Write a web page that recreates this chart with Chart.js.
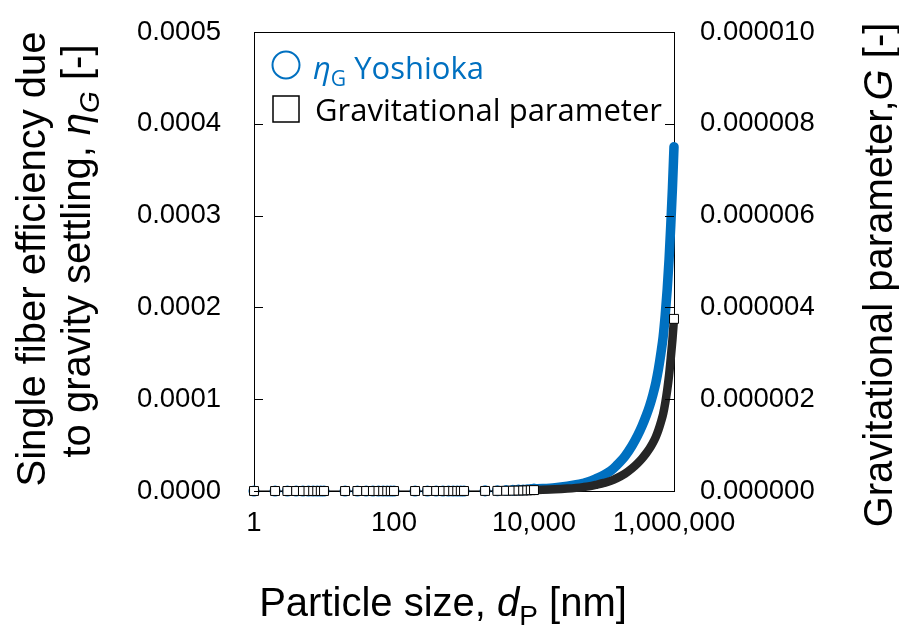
<!DOCTYPE html>
<html>
<head>
<meta charset="utf-8">
<script src="https://cdn.jsdelivr.net/npm/chart.js@4.4.1/dist/chart.umd.min.js"></script>
<style>
  html, body { margin: 0; padding: 0; background: #fff; }
  #chart { display: block; }
</style>
</head>
<body>
<canvas id="chart" width="899" height="625"></canvas>
<script>
// Particle diameters [nm]
const sizeNm = [
    1, 2, 3, 4, 5, 6, 7, 8, 9,
    10, 20, 30, 40, 50, 60, 70, 80, 90,
    100, 200, 300, 400, 500, 600, 700, 800, 900,
    1000, 2000, 3000, 4000, 5000, 6000, 7000, 8000, 9000,
    10000, 20000, 30000, 40000, 50000, 60000, 80000, 100000, 125000, 150000,
    200000, 250000, 300000, 350000, 400000, 450000, 500000, 550000, 600000,
    650000, 700000, 750000, 800000, 850000, 900000, 950000, 1000000
];

// Single fiber efficiency due to gravity settling (Yoshioka) [-]
const etaYoshioka = [
    2.0e-11, 4.1e-11, 6.2e-11, 8.3e-11, 1.0e-10, 1.2e-10, 1.4e-10, 1.7e-10, 1.9e-10,
    2.1e-10, 4.3e-10, 6.5e-10, 8.8e-10, 1.1e-9, 1.3e-9, 1.6e-9, 1.8e-9, 2.1e-9,
    2.3e-9, 5.0e-9, 8.0e-9, 1.1e-8, 1.5e-8, 1.9e-8, 2.3e-8, 2.8e-8, 3.3e-8,
    3.8e-8, 1.5e-7, 3.0e-7, 4.8e-7, 6.8e-7, 9.0e-7, 1.15e-6, 1.4e-6, 1.7e-6,
    2.0e-6, 3.6e-6, 5.2e-6, 6.8e-6, 8.4e-6, 1.0e-5, 1.4e-5, 1.75e-5, 2.2e-5, 2.75e-5,
    3.8e-5, 4.9e-5, 6.0e-5, 7.1e-5, 8.2e-5, 9.3e-5, 1.05e-4, 1.18e-4, 1.33e-4,
    1.5e-4, 1.68e-4, 1.92e-4, 2.2e-4, 2.52e-4, 2.9e-4, 3.3e-4, 3.75e-4
];

// Gravitational parameter G [-]
const gravParam = [
    2.0e-13, 4.1e-13, 6.2e-13, 8.3e-13, 1.0e-12, 1.2e-12, 1.4e-12, 1.7e-12, 1.9e-12,
    2.1e-12, 4.3e-12, 6.5e-12, 8.8e-12, 1.1e-11, 1.3e-11, 1.6e-11, 1.8e-11, 2.1e-11,
    2.3e-11, 5.0e-11, 8.0e-11, 1.1e-10, 1.5e-10, 1.9e-10, 2.3e-10, 2.8e-10, 3.3e-10,
    3.8e-10, 1.5e-9, 3.0e-9, 4.8e-9, 6.8e-9, 9.0e-9, 1.15e-8, 1.4e-8, 1.7e-8,
    2.0e-8, 3.6e-8, 5.2e-8, 6.8e-8, 8.4e-8, 1.0e-7, 1.4e-7, 1.75e-7, 2.2e-7, 2.75e-7,
    3.8e-7, 4.9e-7, 6.0e-7, 7.1e-7, 8.2e-7, 9.3e-7, 1.05e-6, 1.18e-6, 1.33e-6,
    1.5e-6, 1.68e-6, 1.92e-6, 2.2e-6, 2.52e-6, 2.9e-6, 3.3e-6, 3.75e-6
];

const xTickValues = [1, 100, 10000, 1000000];
const etaTickValues = [0, 0.0001, 0.0002, 0.0003, 0.0004, 0.0005];
const gTickValues = [0, 0.000002, 0.000004, 0.000006, 0.000008, 0.00001];

const BLUE = '#0070C0';
const AXIS_FONT = '"Liberation Sans", Arial, sans-serif';
const LEGEND_FONT = '"Open Sans", "Liberation Sans", sans-serif';
const DENSE_FROM = 10000;   // beyond this the markers merge into a solid band

function toPoints(xs, ys) {
    return xs.map((x, i) => ({x: x, y: ys[i]}));
}

// draws a run of text pieces (plain / italic / subscript) centred on (x, y)
function drawRich(ctx, parts, x, y, size, angle, color) {
    ctx.save();
    ctx.translate(x, y);
    ctx.rotate(angle);
    ctx.fillStyle = color;
    ctx.textBaseline = 'alphabetic';
    const fonts = parts.map(p => (p.italic ? 'italic ' : '') + (p.sub ? size * 0.7 : size) + 'px ' + (p.family || AXIS_FONT));
    let total = 0;
    const widths = parts.map((p, i) => { ctx.font = fonts[i]; const w = ctx.measureText(p.text).width; total += w; return w; });
    let cx = -total / 2;
    const base = size * 0.36;
    parts.forEach((p, i) => {
        ctx.font = fonts[i];
        ctx.fillText(p.text, cx, p.sub ? base + size * 0.22 : base);
        cx += widths[i];
    });
    ctx.restore();
}

const decorPlugin = {
    id: 'decor',
    afterDraw(chart) {
        const ctx = chart.ctx;
        const area = chart.chartArea;
        const yScale = chart.scales.y;
        const y2Scale = chart.scales.y2;

        // top frame line and inward tick marks on both value axes
        ctx.save();
        ctx.strokeStyle = '#000';
        ctx.lineWidth = 1;
        ctx.beginPath();
        ctx.moveTo(area.left, area.top + 0.5);
        ctx.lineTo(area.right, area.top + 0.5);
        etaTickValues.forEach(v => {
            const py = Math.round(yScale.getPixelForValue(v)) + 0.5;
            ctx.moveTo(area.left, py);
            ctx.lineTo(area.left + 9, py);
        });
        gTickValues.forEach(v => {
            const py = Math.round(y2Scale.getPixelForValue(v)) + 0.5;
            ctx.moveTo(area.right - 9, py);
            ctx.lineTo(area.right, py);
        });
        ctx.stroke();
        ctx.restore();

        // axis titles
        const T = 40;
        drawRich(ctx, [{text: 'Single fiber efficiency due'}], 31, 259, T, -Math.PI / 2, '#000');
        drawRich(ctx, [
            {text: 'to gravity settling, '},
            {text: 'η', italic: true},
            {text: 'G', italic: true, sub: true},
            {text: ' [-]'}
        ], 76, 251, T, -Math.PI / 2, '#000');
        drawRich(ctx, [
            {text: 'Gravitational parameter,'},
            {text: 'G', italic: true},
            {text: ' [-]'}
        ], 878, 275, T, -Math.PI / 2, '#000');
        drawRich(ctx, [
            {text: 'Particle size, '},
            {text: 'd', italic: true},
            {text: 'P', sub: true},
            {text: ' [nm]'}
        ], 443, 602, T, 0, '#000');

        // legend
        ctx.save();
        ctx.font = '27px ' + LEGEND_FONT;
        const LS = 27 * 347 / ctx.measureText('Gravitational parameter').width;
        ctx.lineWidth = 2;
        ctx.strokeStyle = BLUE;
        ctx.beginPath();
        ctx.arc(286, 65, 13.5, 0, Math.PI * 2);
        ctx.stroke();
        ctx.lineWidth = 1.5;
        ctx.strokeStyle = '#000';
        ctx.fillStyle = '#fff';
        ctx.fillRect(273, 96, 26, 26);
        ctx.strokeRect(273, 96, 26, 26);

        ctx.textBaseline = 'alphabetic';
        ctx.fillStyle = BLUE;
        let tx = 313;
        ctx.font = 'italic ' + LS + 'px ' + LEGEND_FONT;
        ctx.fillText('η', tx, 79);
        tx += ctx.measureText('η').width;
        ctx.font = (LS * 0.68) + 'px ' + LEGEND_FONT;
        ctx.fillText('G', tx, 86);
        tx += ctx.measureText('G').width;
        ctx.font = LS + 'px ' + LEGEND_FONT;
        ctx.fillText(' Yoshioka', tx, 79);

        ctx.fillStyle = '#000';
        ctx.fillText('Gravitational parameter', 315, 121);
        ctx.restore();
    }
};

const lastIndex = sizeNm.length - 1;

// value axes: fixed width, no extra label padding above/below the plot box
function fitValueAxis(width) {
    return s => {
        s.width = width;
        s.paddingTop = 0;
        s.paddingBottom = 0;
    };
}

new Chart(document.getElementById('chart'), {
    type: 'line',
    data: {
        datasets: [
            {
                label: 'ηG Yoshioka',
                data: toPoints(sizeNm, etaYoshioka),
                yAxisID: 'y',
                order: 2,
                clip: false,
                cubicInterpolationMode: 'monotone',
                borderColor: BLUE,
                borderCapStyle: 'round',
                borderJoinStyle: 'round',
                segment: {
                    borderColor: c => c.p0.parsed.x >= DENSE_FROM ? BLUE : 'rgba(0,0,0,0)',
                    borderWidth: c => c.p0.parsed.x >= DENSE_FROM ? 9.5 : 1
                },
                pointStyle: 'circle',
                pointRadius: c => sizeNm[c.dataIndex] <= DENSE_FROM ? 4.8 : 0,
                pointBorderWidth: 1.5,
                pointBorderColor: BLUE,
                pointBackgroundColor: 'rgba(0,0,0,0)'
            },
            {
                label: 'Gravitational parameter',
                data: toPoints(sizeNm, gravParam),
                yAxisID: 'y2',
                order: 1,
                clip: false,
                cubicInterpolationMode: 'monotone',
                borderColor: '#000',
                segment: {
                    borderColor: c => c.p0.parsed.x >= DENSE_FROM ? '#262626' : '#000',
                    borderWidth: c => c.p0.parsed.x >= DENSE_FROM ? 8.5 : 1
                },
                pointStyle: 'rect',
                pointRadius: c => (sizeNm[c.dataIndex] <= DENSE_FROM || c.dataIndex === lastIndex) ? 6.3 : 0,
                pointBorderWidth: 1,
                pointBorderColor: '#000',
                pointBackgroundColor: '#fff'
            }
        ]
    },
    options: {
        responsive: false,
        devicePixelRatio: 1,
        animation: false,
        events: [],
        layout: { padding: { top: 32, left: 0, right: 0, bottom: 0 } },
        plugins: {
            legend: { display: false },
            tooltip: { enabled: false }
        },
        scales: {
            x: {
                type: 'logarithmic',
                position: 'bottom',
                min: 1,
                max: 1000000,
                afterFit: s => { s.height = 134; s.paddingLeft = 0; s.paddingRight = 0; },
                afterBuildTicks: s => { s.ticks = xTickValues.map(v => ({value: v})); },
                grid: { display: false, drawTicks: false },
                border: { display: true, color: '#000', width: 1 },
                ticks: {
                    autoSkip: false,
                    maxRotation: 0,
                    padding: 16,
                    color: '#000',
                    font: { family: AXIS_FONT, size: 27.5 },
                    callback: v => Number(v).toLocaleString('en-US')
                }
            },
            y: {
                position: 'left',
                min: 0,
                max: 0.0005,
                afterFit: fitValueAxis(254),
                afterBuildTicks: s => { s.ticks = etaTickValues.map(v => ({value: v})); },
                grid: { display: false, drawTicks: false },
                border: { display: true, color: '#000', width: 1 },
                ticks: {
                    padding: 33,
                    color: '#000',
                    font: { family: AXIS_FONT, size: 27.5 },
                    callback: v => Number(v).toFixed(4)
                }
            },
            y2: {
                position: 'right',
                min: 0,
                max: 0.00001,
                afterFit: fitValueAxis(225),
                afterBuildTicks: s => { s.ticks = gTickValues.map(v => ({value: v})); },
                grid: { display: false, drawTicks: false },
                border: { display: true, color: '#000', width: 1 },
                ticks: {
                    padding: 26,
                    color: '#000',
                    font: { family: AXIS_FONT, size: 27.5 },
                    callback: v => Number(v).toFixed(6)
                }
            }
        }
    },
    plugins: [decorPlugin]
});
</script>
</body>
</html>
